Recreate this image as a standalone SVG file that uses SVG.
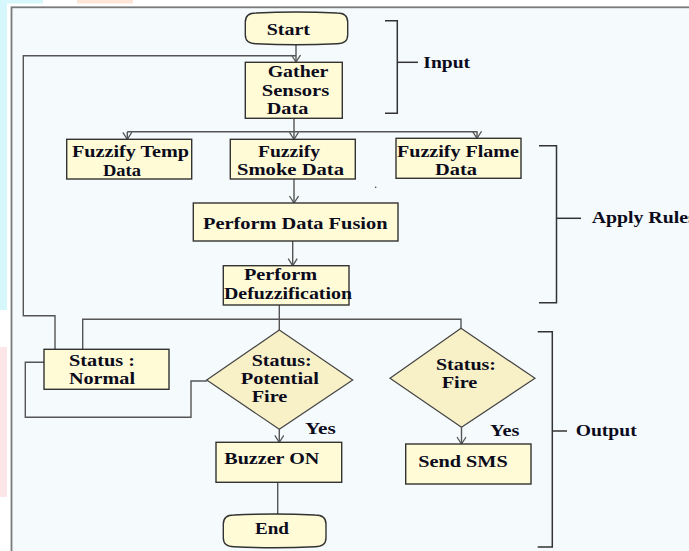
<svg xmlns="http://www.w3.org/2000/svg" width="689" height="551" viewBox="0 0 689 551">
<style>
.box{fill:#fffbd6;stroke:#333;stroke-width:1.4}
.dia{fill:#f8f0c6;stroke:#444;stroke-width:1.2}
.t{font-family:"Liberation Serif","Times New Roman",serif;font-weight:bold;font-size:17px;fill:#0b0b1c}
.c{fill:none;stroke:#555;stroke-width:1.4}
.br{fill:none;stroke:#333;stroke-width:1.5}
</style>
<defs>
<marker id="ah" markerUnits="userSpaceOnUse" markerWidth="12" markerHeight="12" refX="8" refY="5" orient="auto">
<path d="M1,0.5 L8,5 L1,9.5" fill="none" stroke="#555" stroke-width="1.3"/>
</marker>
</defs>
<rect x="0" y="0" width="689" height="551" fill="#ffffff"/>
<rect x="0" y="0" width="7" height="310" fill="#d6f7fb"/>
<rect x="0" y="0" width="43" height="3.5" fill="#d6f7fb"/>
<rect x="77" y="0" width="56" height="3.5" fill="#fde6d8"/>
<rect x="0" y="347" width="7" height="150" fill="#fde6e8"/>
<rect x="11.5" y="7.3" width="700" height="560" fill="#f5fbfc" stroke="#7a7a7a" stroke-width="1.8"/>
<circle cx="375.7" cy="187.3" r="0.8" fill="#444"/>

<g id="connectors">
<path class="c" d="M296,44 V62" marker-end="url(#ah)"/>
<path class="c" d="M55,349.3 V315.7 H23.3 V55.7 H296"/>
<path class="c" d="M294,118.3 V131.7"/>
<path class="c" d="M127.3,131.7 H477.5"/>
<path class="c" d="M127.3,131.7 V139.3" marker-end="url(#ah)"/>
<path class="c" d="M294,131.7 V139.3" marker-end="url(#ah)"/>
<path class="c" d="M477,131.7 V138.3" marker-end="url(#ah)"/>
<path class="c" d="M294,179 V203" marker-end="url(#ah)"/>
<path class="c" d="M292.7,241 V265.7" marker-end="url(#ah)"/>
<path class="c" d="M279.3,305 V330"/>
<path class="c" d="M82.7,349.3 V319.3 H461 V328.3"/>
<path class="c" d="M207,381 H191 V417.3 H25.3 V362.3 H44"/>
<path class="c" d="M279.3,429.3 V442.3" marker-end="url(#ah)"/>
<path class="c" d="M461.5,427.3 V444" marker-end="url(#ah)"/>
<path class="c" d="M277.7,482.3 V515"/>
</g>

<g id="brackets">
<path class="br" d="M385,20.7 H397.3 V113.3 H385"/>
<path class="br" d="M397.3,62.3 H418"/>
<path class="br" d="M539,145.7 H556.5 V302.7 H539"/>
<path class="br" d="M556.5,218.3 H581"/>
<path class="br" d="M537.7,331.7 H552.3 V547 H537.7"/>
<path class="br" d="M552.3,431 H567"/>
</g>

<g id="start">
<path class="box" d="M256,13 Q296,11 337,13 Q347.7,13 347.7,22 V35 Q347.7,43.7 337,43.7 Q296,45.7 256,43.7 Q245.3,43.7 245.3,35 V22 Q245.3,13 256,13 Z"/>
<text class="t" x="266.7" y="34.7" textLength="43.3" lengthAdjust="spacingAndGlyphs">Start</text>
</g>
<g id="gather">
<rect class="box" x="245.3" y="62.3" width="97" height="56"/>
<text class="t" x="267.7" y="76.7" textLength="60.6" lengthAdjust="spacingAndGlyphs">Gather</text>
<text class="t" x="261.7" y="95.7" textLength="67.6" lengthAdjust="spacingAndGlyphs">Sensors</text>
<text class="t" x="266.7" y="114" textLength="41.6" lengthAdjust="spacingAndGlyphs">Data</text>
</g>
<g id="fuzzTemp">
<rect class="box" x="66.7" y="139.3" width="125" height="39.7"/>
<text class="t" x="72" y="157.3" textLength="117" lengthAdjust="spacingAndGlyphs">Fuzzify Temp</text>
<text class="t" x="103" y="175.7" textLength="38" lengthAdjust="spacingAndGlyphs">Data</text>
</g>
<g id="fuzzSmoke">
<rect class="box" x="230.3" y="139.3" width="125" height="39.7"/>
<text class="t" x="258" y="156.7" textLength="62" lengthAdjust="spacingAndGlyphs">Fuzzify</text>
<text class="t" x="237" y="175" textLength="107" lengthAdjust="spacingAndGlyphs">Smoke Data</text>
</g>
<g id="fuzzFlame">
<rect class="box" x="396" y="138.3" width="125" height="40"/>
<text class="t" x="397" y="156.7" textLength="122" lengthAdjust="spacingAndGlyphs">Fuzzify Flame</text>
<text class="t" x="435" y="175" textLength="42" lengthAdjust="spacingAndGlyphs">Data</text>
</g>
<g id="fusion">
<rect class="box" x="193.3" y="203" width="204.7" height="38"/>
<text class="t" x="203" y="229.3" textLength="184.5" lengthAdjust="spacingAndGlyphs">Perform Data Fusion</text>
</g>
<g id="defuzz">
<rect class="box" x="223.3" y="265.7" width="125.7" height="39.3"/>
<text class="t" x="244" y="280" textLength="73" lengthAdjust="spacingAndGlyphs">Perform</text>
<text class="t" x="224" y="299" textLength="128" lengthAdjust="spacingAndGlyphs">Defuzzification</text>
</g>
<g id="normal">
<rect class="box" x="44" y="349.3" width="125" height="40"/>
<text class="t" x="69" y="365.7" textLength="66" lengthAdjust="spacingAndGlyphs">Status :</text>
<text class="t" x="69" y="384.3" textLength="66" lengthAdjust="spacingAndGlyphs">Normal</text>
</g>
<g id="potentialFire">
<polygon class="dia" points="279.3,330 352.7,380 279.3,429.3 206.7,380"/>
<text class="t" x="251.7" y="365.7" textLength="60" lengthAdjust="spacingAndGlyphs">Status:</text>
<text class="t" x="240.7" y="384" textLength="78.3" lengthAdjust="spacingAndGlyphs">Potential</text>
<text class="t" x="251.7" y="402.3" textLength="35.6" lengthAdjust="spacingAndGlyphs">Fire</text>
</g>
<g id="fire">
<polygon class="dia" points="461,328.3 535,378.3 461.5,427.3 390,378.3"/>
<text class="t" x="436" y="370" textLength="60" lengthAdjust="spacingAndGlyphs">Status:</text>
<text class="t" x="441.7" y="387.7" textLength="35.6" lengthAdjust="spacingAndGlyphs">Fire</text>
</g>
<g id="labels">
<text class="t" x="305" y="434" textLength="30.7" lengthAdjust="spacingAndGlyphs">Yes</text>
<text class="t" x="490" y="435.7" textLength="29.3" lengthAdjust="spacingAndGlyphs">Yes</text>
<text class="t" x="423.3" y="68.3" textLength="46.7" lengthAdjust="spacingAndGlyphs">Input</text>
<text class="t" x="591.7" y="223.3" textLength="104" lengthAdjust="spacingAndGlyphs">Apply Rules</text>
<text class="t" x="575.7" y="435.7" textLength="61" lengthAdjust="spacingAndGlyphs">Output</text>
</g>
<g id="buzzer">
<rect class="box" x="216" y="442.3" width="125.7" height="40"/>
<text class="t" x="224.3" y="464.3" textLength="95" lengthAdjust="spacingAndGlyphs">Buzzer ON</text>
</g>
<g id="sms">
<rect class="box" x="405.7" y="444" width="125.3" height="40"/>
<text class="t" x="418.3" y="466.7" textLength="89.4" lengthAdjust="spacingAndGlyphs">Send SMS</text>
</g>
<g id="end">
<path class="box" d="M234,515 Q275,513 315,515 Q326,515 326,524 V538 Q326,546.7 315,546.7 Q275,548.7 234,546.7 Q223.3,546.7 223.3,538 V524 Q223.3,515 234,515 Z"/>
<text class="t" x="255" y="534.3" textLength="34" lengthAdjust="spacingAndGlyphs">End</text>
</g>
</svg>
